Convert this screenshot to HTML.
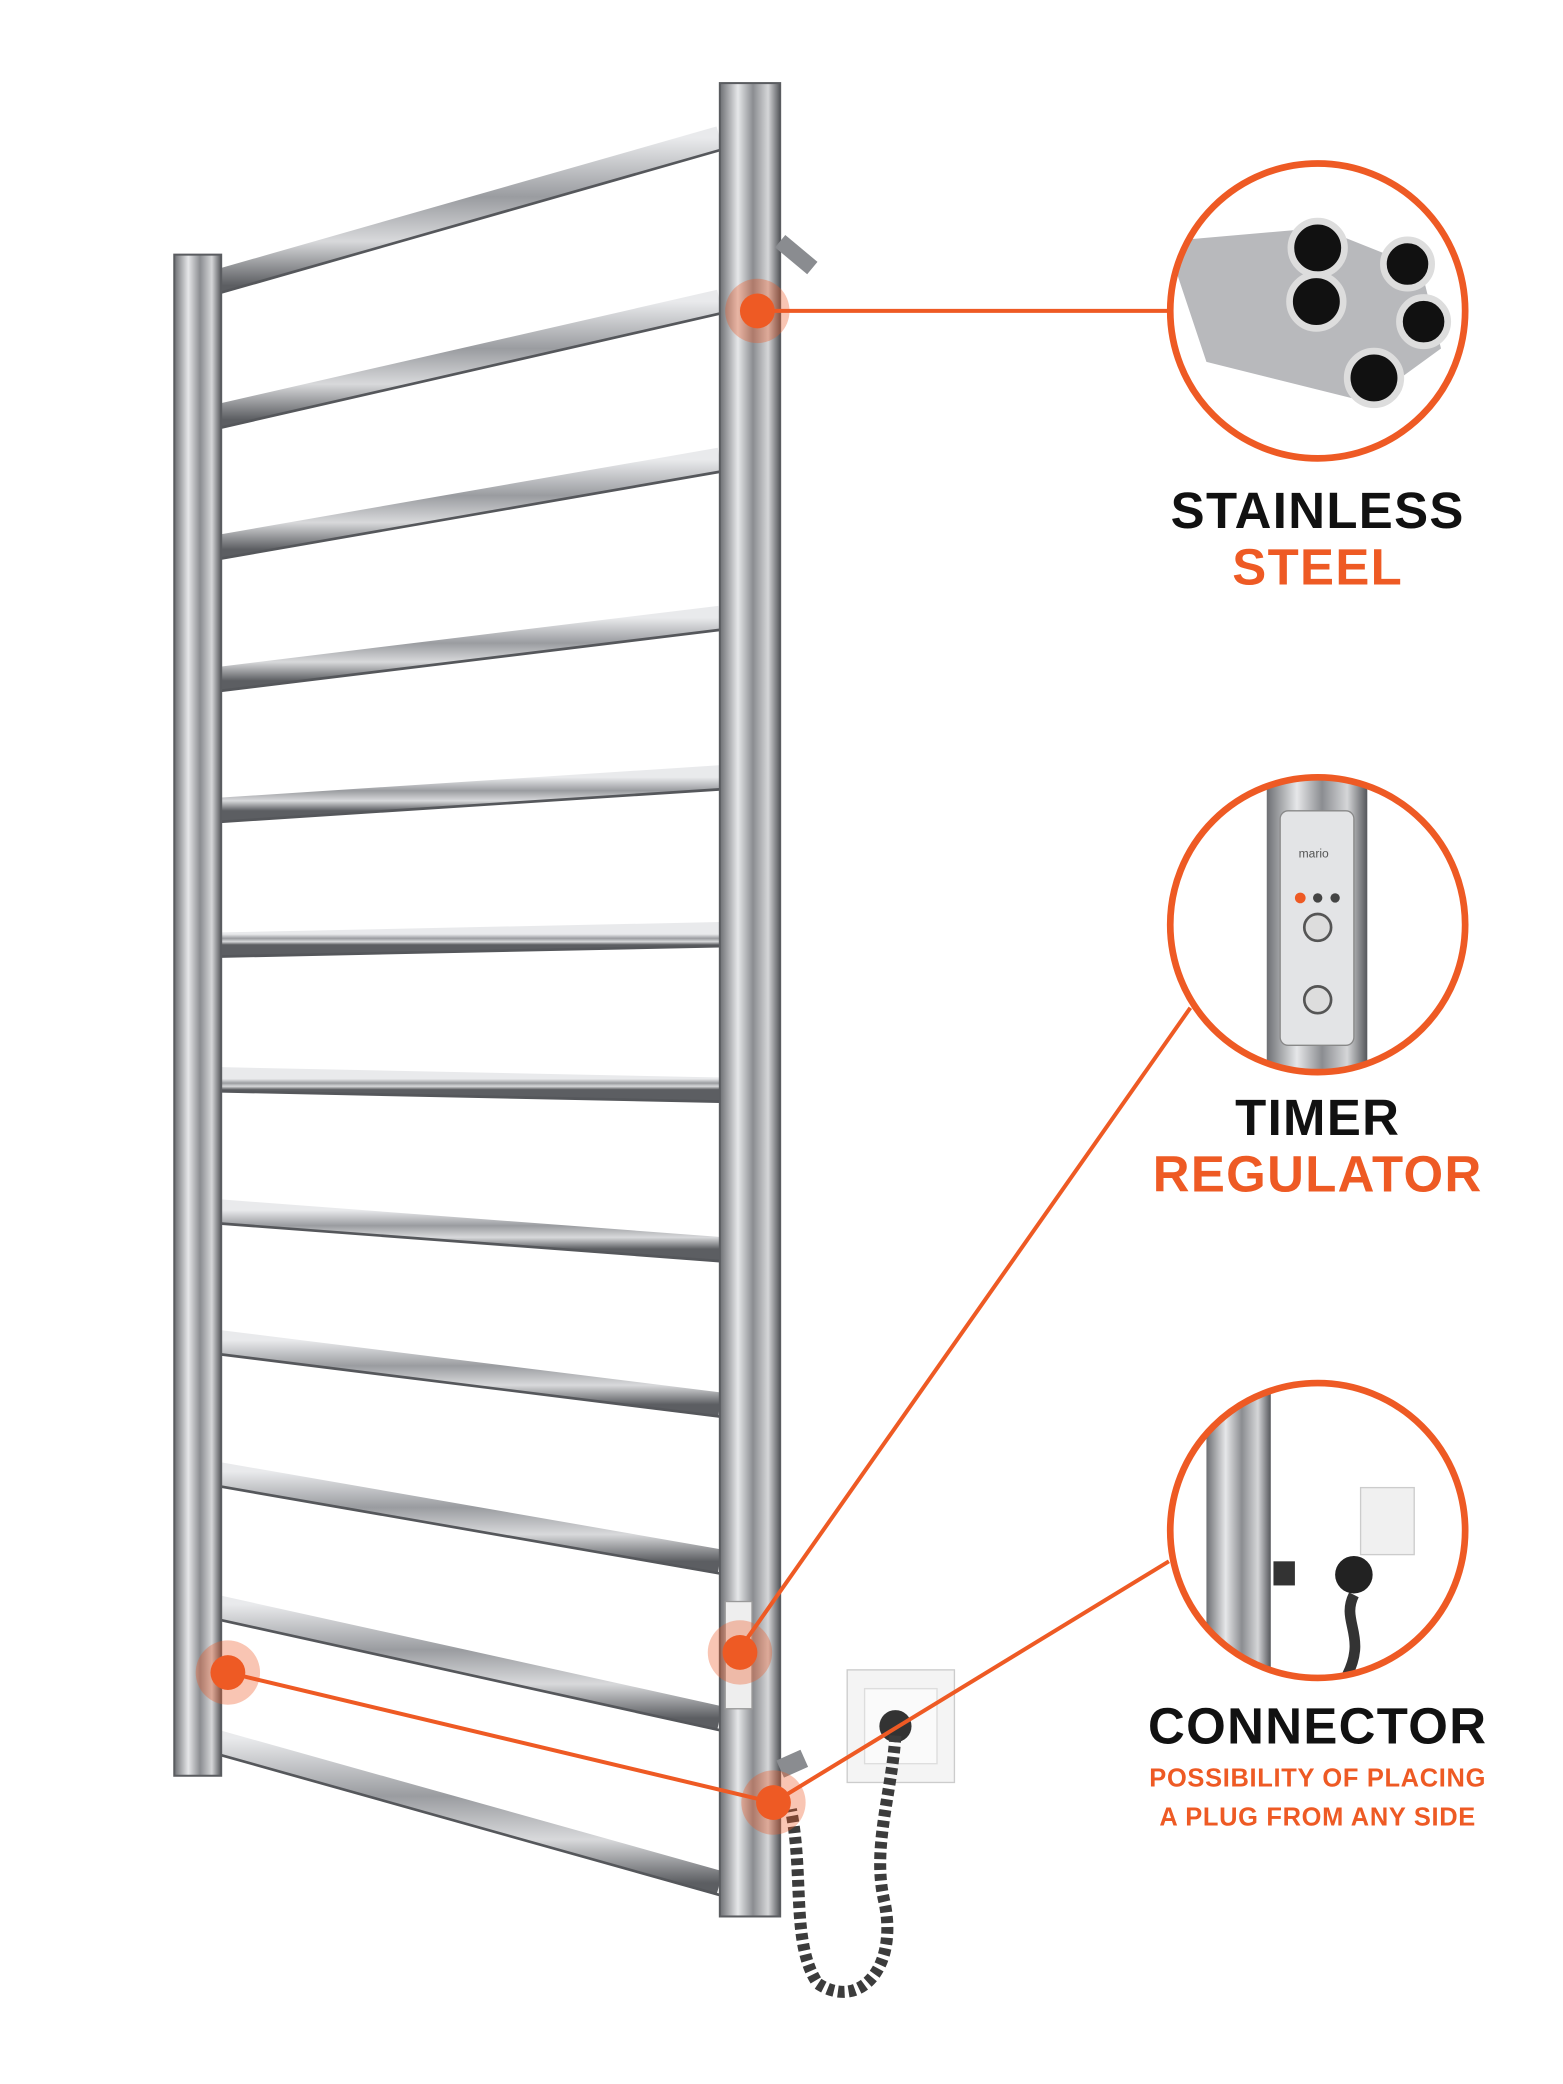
<!DOCTYPE html>
<html><head><meta charset="utf-8"><style>
html,body{margin:0;padding:0;background:#fff}
svg{display:block}
text{font-family:"Liberation Sans",sans-serif;font-weight:bold;text-anchor:middle}
</style></head><body>
<svg width="1563" height="2084" viewBox="0 0 1166 1555" preserveAspectRatio="none" xmlns="http://www.w3.org/2000/svg">
<defs>
<linearGradient id="post" x1="0" x2="1" y1="0" y2="0">
<stop offset="0" stop-color="#6d6f73"/><stop offset="0.3" stop-color="#e6e7e9"/><stop offset="0.55" stop-color="#8b8d91"/><stop offset="0.8" stop-color="#d5d6d8"/><stop offset="1" stop-color="#55575b"/>
</linearGradient>
<linearGradient id="rung" x1="0" x2="0" y1="0" y2="1">
<stop offset="0" stop-color="#e9eaec"/><stop offset="0.4" stop-color="#9a9ca0"/><stop offset="0.7" stop-color="#d8d9db"/><stop offset="1" stop-color="#5c5e62"/>
</linearGradient>
<radialGradient id="pipe" cx="0.5" cy="0.5" r="0.5">
<stop offset="0" stop-color="#e8e8e8"/><stop offset="1" stop-color="#8a8a8a"/>
</radialGradient>
</defs>
<rect width="1166" height="1555" fill="#fff"/>
<!-- rungs -->
<g stroke="url(#rung)" stroke-width="18" fill="none">
<line x1="152" y1="213" x2="537" y2="103"/>
<line x1="152" y1="313" x2="537" y2="225"/>
<line x1="152" y1="410" x2="537" y2="343"/>
<line x1="152" y1="508" x2="537" y2="461"/>
<line x1="152" y1="605" x2="537" y2="580"/>
<line x1="152" y1="705" x2="537" y2="697"/>
<line x1="152" y1="805" x2="537" y2="813"/>
<line x1="152" y1="903" x2="537" y2="932"/>
<line x1="152" y1="1000" x2="537" y2="1048"/>
<line x1="152" y1="1098" x2="537" y2="1165"/>
<line x1="152" y1="1197" x2="537" y2="1282"/>
<line x1="152" y1="1297" x2="537" y2="1405"/>
</g>
<g stroke="#55575b" stroke-width="2" fill="none">
<line x1="152" y1="222" x2="537" y2="112"/>
<line x1="152" y1="322" x2="537" y2="234"/>
<line x1="152" y1="419" x2="537" y2="352"/>
<line x1="152" y1="517" x2="537" y2="470"/>
<line x1="152" y1="614" x2="537" y2="589"/>
<line x1="152" y1="714" x2="537" y2="706"/>
<line x1="152" y1="814" x2="537" y2="822"/>
<line x1="152" y1="912" x2="537" y2="941"/>
<line x1="152" y1="1009" x2="537" y2="1057"/>
<line x1="152" y1="1107" x2="537" y2="1174"/>
<line x1="152" y1="1206" x2="537" y2="1291"/>
<line x1="152" y1="1306" x2="537" y2="1414"/>
</g>
<!-- posts -->
<rect x="130" y="190" width="35" height="1135" fill="url(#post)" stroke="#5a5c60" stroke-width="1.5"/>
<rect x="537" y="62" width="45" height="1368" fill="url(#post)" stroke="#5a5c60" stroke-width="1.5"/>
<line x1="582" y1="180" x2="606" y2="200" stroke="#8a8c90" stroke-width="12"/>
<line x1="582" y1="1320" x2="600" y2="1312" stroke="#8a8c90" stroke-width="14"/>
<rect x="541" y="1195" width="20" height="80" fill="#eee" stroke="#999"/>
<!-- outlet & cord -->
<rect x="632" y="1246" width="80" height="84" fill="#f4f4f4" stroke="#ccc"/>
<rect x="645" y="1260" width="54" height="56" fill="#fafafa" stroke="#ddd"/>
<circle cx="668" cy="1288" r="12" fill="#333"/>
<path d="M668 1295 C665 1340 650 1380 660 1420 C670 1470 640 1500 610 1480 C590 1450 600 1400 590 1350" fill="none" stroke="#3c3c3c" stroke-width="9" stroke-dasharray="5 3"/>
<!-- connectors -->
<g stroke="#ee5a24" stroke-width="3" fill="none">
<line x1="565" y1="232" x2="875" y2="232"/>
<line x1="550" y1="1233" x2="888" y2="752"/>
<line x1="170" y1="1248" x2="577" y2="1345"/>
<line x1="577" y1="1345" x2="872" y2="1165"/>
</g>
<g fill="#ee5a24">
<circle cx="565" cy="232" r="24" opacity="0.35"/><circle cx="565" cy="232" r="13"/>
<circle cx="552" cy="1233" r="24" opacity="0.35"/><circle cx="552" cy="1233" r="13"/>
<circle cx="170" cy="1248" r="24" opacity="0.35"/><circle cx="170" cy="1248" r="13"/>
<circle cx="577" cy="1345" r="24" opacity="0.35"/><circle cx="577" cy="1345" r="13"/>
</g>
<!-- circle 1 pipes -->
<g>
<clipPath id="c1"><circle cx="983" cy="232" r="110"/></clipPath>
<g clip-path="url(#c1)">
<path d="M870 180 L985 170 L1060 200 L1075 260 L1020 300 L900 270 Z" fill="#b8b9bc"/>
<circle cx="983" cy="185" r="20" fill="#111" stroke="#ddd" stroke-width="5"/>
<circle cx="1050" cy="197" r="18" fill="#111" stroke="#ddd" stroke-width="5"/>
<circle cx="982" cy="225" r="20" fill="#111" stroke="#ddd" stroke-width="5"/>
<circle cx="1062" cy="240" r="18" fill="#111" stroke="#ddd" stroke-width="5"/>
<circle cx="1025" cy="282" r="20" fill="#111" stroke="#ddd" stroke-width="5"/>
</g>
<circle cx="983" cy="232" r="110" fill="none" stroke="#ee5a24" stroke-width="5"/>
</g>
<!-- circle 2 timer -->
<clipPath id="c2"><circle cx="983" cy="690" r="110"/></clipPath>
<g clip-path="url(#c2)">
<rect x="945" y="580" width="75" height="220" fill="url(#post)"/>
<rect x="955" y="605" width="55" height="175" rx="6" fill="#e3e4e6" stroke="#888"/>
<circle cx="970" cy="670" r="4" fill="#ee5a24"/><circle cx="983" cy="670" r="3.5" fill="#444"/><circle cx="996" cy="670" r="3.5" fill="#444"/>
<circle cx="983" cy="692" r="10" fill="#ddd" stroke="#555" stroke-width="2"/>
<circle cx="983" cy="746" r="10" fill="#ddd" stroke="#555" stroke-width="2"/>
<text x="980" y="640" style="font-size:9px;font-weight:normal" fill="#555">mario</text>
</g>
<circle cx="983" cy="690" r="110" fill="none" stroke="#ee5a24" stroke-width="5"/>
<!-- circle 3 connector -->
<clipPath id="c3"><circle cx="983" cy="1142" r="110"/></clipPath>
<g clip-path="url(#c3)">
<rect x="900" y="1030" width="48" height="230" fill="url(#post)"/>
<rect x="1015" y="1110" width="40" height="50" fill="#f0f0f0" stroke="#ccc"/>
<rect x="950" y="1165" width="16" height="18" fill="#333"/>
<circle cx="1010" cy="1175" r="14" fill="#222"/>
<path d="M1010 1190 C1000 1210 1020 1220 1005 1250" stroke="#333" stroke-width="8" fill="none"/>
</g>
<circle cx="983" cy="1142" r="110" fill="none" stroke="#ee5a24" stroke-width="5"/>
<!-- labels -->
<text x="983" y="394" font-size="38" fill="#111" letter-spacing="1">STAINLESS</text>
<text x="983" y="436" font-size="38" fill="#ee5a24" letter-spacing="1">STEEL</text>
<text x="983" y="847" font-size="38" fill="#111" letter-spacing="1">TIMER</text>
<text x="983" y="889" font-size="38" fill="#ee5a24" letter-spacing="1">REGULATOR</text>
<text x="983" y="1301" font-size="38" fill="#111" letter-spacing="1">CONNECTOR</text>
<text x="983" y="1333" font-size="19" fill="#ee5a24" letter-spacing="0.5">POSSIBILITY OF PLACING</text>
<text x="983" y="1362" font-size="19" fill="#ee5a24" letter-spacing="0.5">A PLUG FROM ANY SIDE</text>
</svg>
</body></html>
